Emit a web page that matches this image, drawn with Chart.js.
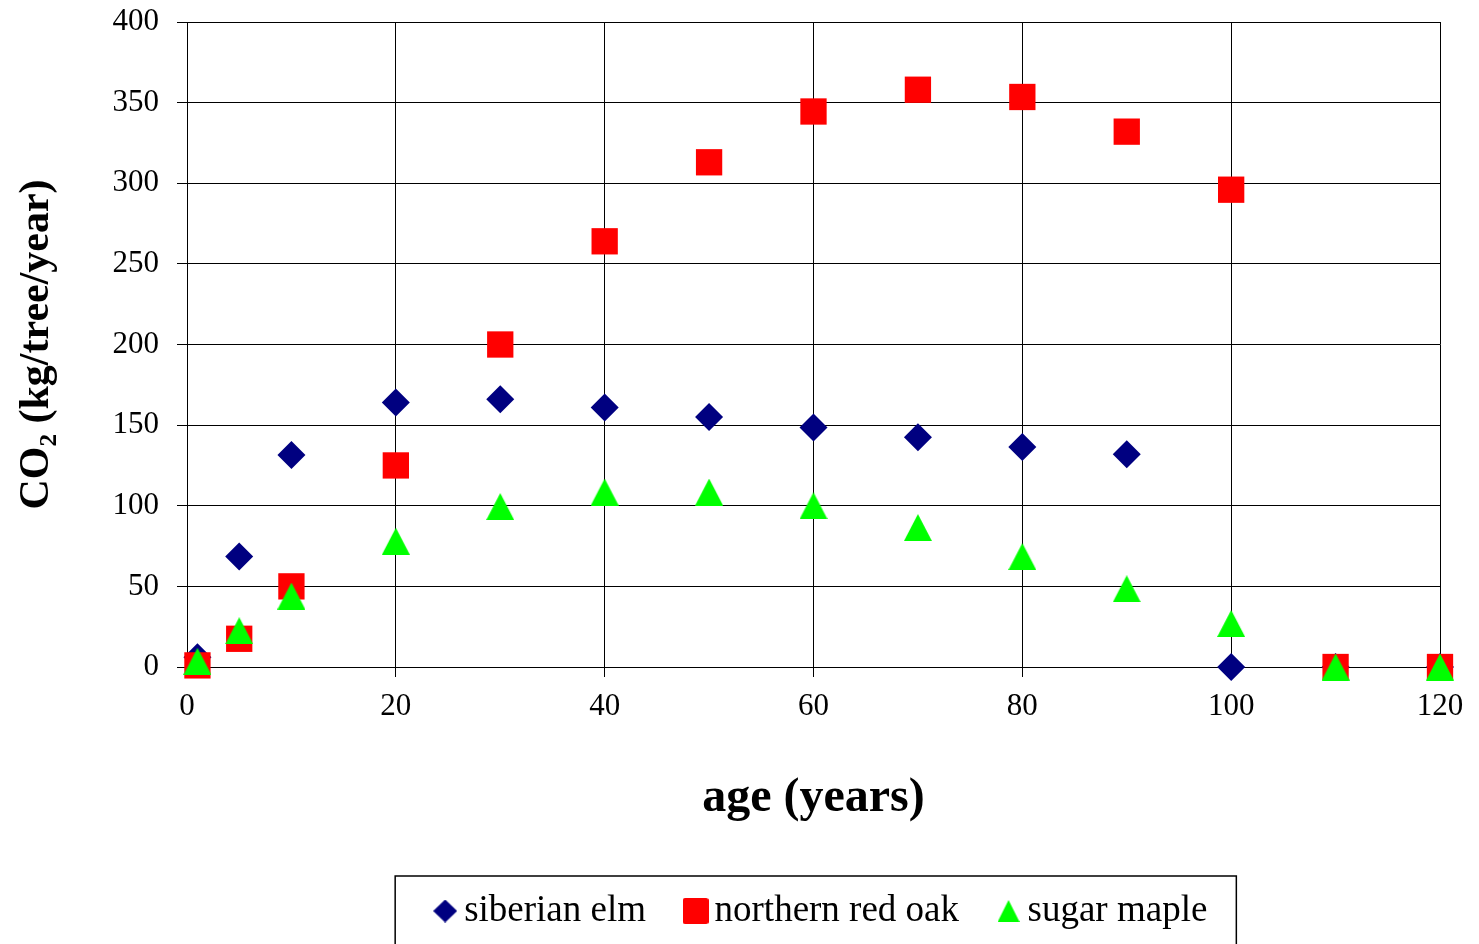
<!DOCTYPE html>
<html>
<head>
<meta charset="utf-8">
<script src="https://cdn.jsdelivr.net/npm/chart.js@4.4.0/dist/chart.umd.min.js"></script>
<style>
html, body { margin: 0; padding: 0; background: #fff; overflow: hidden; }
#wrap { width: 1479px; height: 944px; }
</style>
</head>
<body>
<div id="wrap"><canvas id="co2-chart" width="1479" height="944"></canvas></div>
<script>
// age of tree (years) and CO2 per tree per year (kg)
var ages = [1, 5, 10, 20, 30, 40, 50, 60, 70, 80, 90, 100, 110, 120];
var siberianElm = [6, 68.5, 131.5, 164, 166, 161, 155, 148.5, 142.5, 136.5, 132, 0, 0, 0];
var redOak = [1, 17.5, 50, 125, 200, 264, 313, 344.5, 358, 353.5, 332, 296, 0, 0];
var sugarMaple = [3.5, 22.5, 44, 78, 99.5, 108.5, 108.5, 100, 86.5, 68.5, 48.5, 27, 0, 0];
var seriesNames = ['siberian elm', 'northern red oak', 'sugar maple'];
var xTickValues = [0, 20, 40, 60, 80, 100, 120];
var yTickValues = [0, 50, 100, 150, 200, 250, 300, 350, 400];

var legendShift = 106;

function toPoints(ys) {
  return ages.map(function(a, i) { return {x: a, y: ys[i]}; });
}

function marker(w, h, color, draw) {
  var c = document.createElement('canvas');
  c.width = w; c.height = h;
  var g = c.getContext('2d');
  g.fillStyle = color;
  g.beginPath();
  draw(g, w, h);
  g.fill();
  return c;
}
function tri(g, w, h) { g.moveTo(w / 2, 0); g.lineTo(w, h); g.lineTo(0, h); g.closePath(); }
function dia(g, w, h) { g.moveTo(w / 2, 0); g.lineTo(w, h / 2); g.lineTo(w / 2, h); g.lineTo(0, h / 2); g.closePath(); }
function sq(g, w, h) {
  var r = 2.5;
  g.moveTo(r, 0); g.lineTo(w - r, 0); g.quadraticCurveTo(w, 0, w, r);
  g.lineTo(w, h - r); g.quadraticCurveTo(w, h, w - r, h);
  g.lineTo(r, h); g.quadraticCurveTo(0, h, 0, h - r);
  g.lineTo(0, r); g.quadraticCurveTo(0, 0, r, 0); g.closePath();
}

var triMark = marker(28, 27, '#00FF00', tri);
var legendMarks = [
  marker(24, 23, '#000080', dia),
  marker(26, 26, '#FF0000', sq),
  marker(22, 22, '#00FF00', tri)
];

var legendFrame = {
  id: 'legendFrame',
  afterLayout: function(chart) {
    chart.legend.left += legendShift;
    chart.legend.right += legendShift;
  },
  afterDraw: function(chart) {
    var lg = chart.legend;
    var pad = lg.options.labels.padding;
    var x0 = (lg.left + pad + lg.right - lg.lineWidths[0]) / 2;
    var x1 = x0 + lg.lineWidths[0] - pad;
    var yc = lg.top + pad + lg.options.labels.font.size / 2;
    var c = chart.ctx;
    c.save();
    c.strokeStyle = '#000';
    c.lineWidth = 1.5;
    c.strokeRect(x0 - 49.5, yc - 35, (x1 + 29) - (x0 - 49.5), chart.height);
    c.restore();
  }
};

var serif = 'Liberation Serif';

var chartdata = {
  datasets: [
    {
      label: seriesNames[0],
      data: toPoints(siberianElm),
      pointStyle: 'rectRot',
      pointRadius: 14,
      pointHoverRadius: 14,
      backgroundColor: '#000080',
      borderColor: '#000080',
      pointBorderWidth: 0,
      showLine: false,
      order: 3,
      clip: false
    },
    {
      label: seriesNames[1],
      data: toPoints(redOak),
      pointStyle: 'rect',
      pointRadius: 18.6,
      pointHoverRadius: 18.6,
      backgroundColor: '#FF0000',
      borderColor: '#FF0000',
      pointBorderWidth: 0,
      showLine: false,
      order: 2,
      clip: false
    },
    {
      label: seriesNames[2],
      data: toPoints(sugarMaple),
      pointStyle: triMark,
      pointRadius: 14,
      backgroundColor: '#00FF00',
      borderColor: '#00FF00',
      pointBorderWidth: 0,
      showLine: false,
      order: 1,
      clip: false
    }
  ]
};

var ctx = document.getElementById('co2-chart');

var scatterGraph = new Chart(ctx, {
  type: 'scatter',
  data: chartdata,
  plugins: [legendFrame],
  options: {
    responsive: false,
    animation: false,
    events: [],
    devicePixelRatio: 1,
    layout: { padding: { top: 22, right: 39, bottom: 4.5, left: 0 } },
    plugins: {
      tooltip: { enabled: false },
      legend: {
        position: 'bottom',
        labels: {
          usePointStyle: true,
          pointStyleWidth: 1,
          padding: 49,
          color: '#000',
          font: { family: serif, size: 37 },
          generateLabels: function(chart) {
            return chart.data.datasets.map(function(ds, i) {
              return {
                text: ds.label,
                pointStyle: legendMarks[i],
                fillStyle: ds.backgroundColor,
                strokeStyle: ds.backgroundColor,
                lineWidth: 0,
                hidden: false,
                datasetIndex: i
              };
            });
          }
        }
      }
    },
    scales: {
      x: {
        type: 'linear',
        min: 0,
        max: 120,
        afterBuildTicks: function(s) { s.ticks = xTickValues.map(function(v) { return {value: v}; }); },
        afterFit: function(s) { s.height = 176.5; },
        grid: { color: '#000', lineWidth: 1, tickLength: 10 },
        border: { color: '#000', width: 1 },
        ticks: { color: '#000', padding: 11, maxRotation: 0, font: { family: serif, size: 31 } },
        title: {
          display: true,
          text: 'age (years)',
          color: '#000',
          font: { family: serif, size: 48, weight: 'bold' },
          padding: { top: 0, bottom: 16 }
        }
      },
      y: {
        type: 'linear',
        min: 0,
        max: 400,
        afterBuildTicks: function(s) { s.ticks = yTickValues.map(function(v) { return {value: v}; }); },
        afterFit: function(s) { s.width = 187; s.paddingTop = 0; s.paddingBottom = 0; },
        grid: { color: '#000', lineWidth: 1, tickLength: 10 },
        border: { color: '#000', width: 1 },
        ticks: { color: '#000', padding: 18, font: { family: serif, size: 31 } },
        title: {
          display: true,
          text: 'CO₂ (kg/tree/year)',
          color: '#000',
          font: { family: serif, size: 42, weight: 'bold' },
          padding: { top: 12, bottom: 0 }
        }
      }
    }
  }
});
</script>
</body>
</html>
